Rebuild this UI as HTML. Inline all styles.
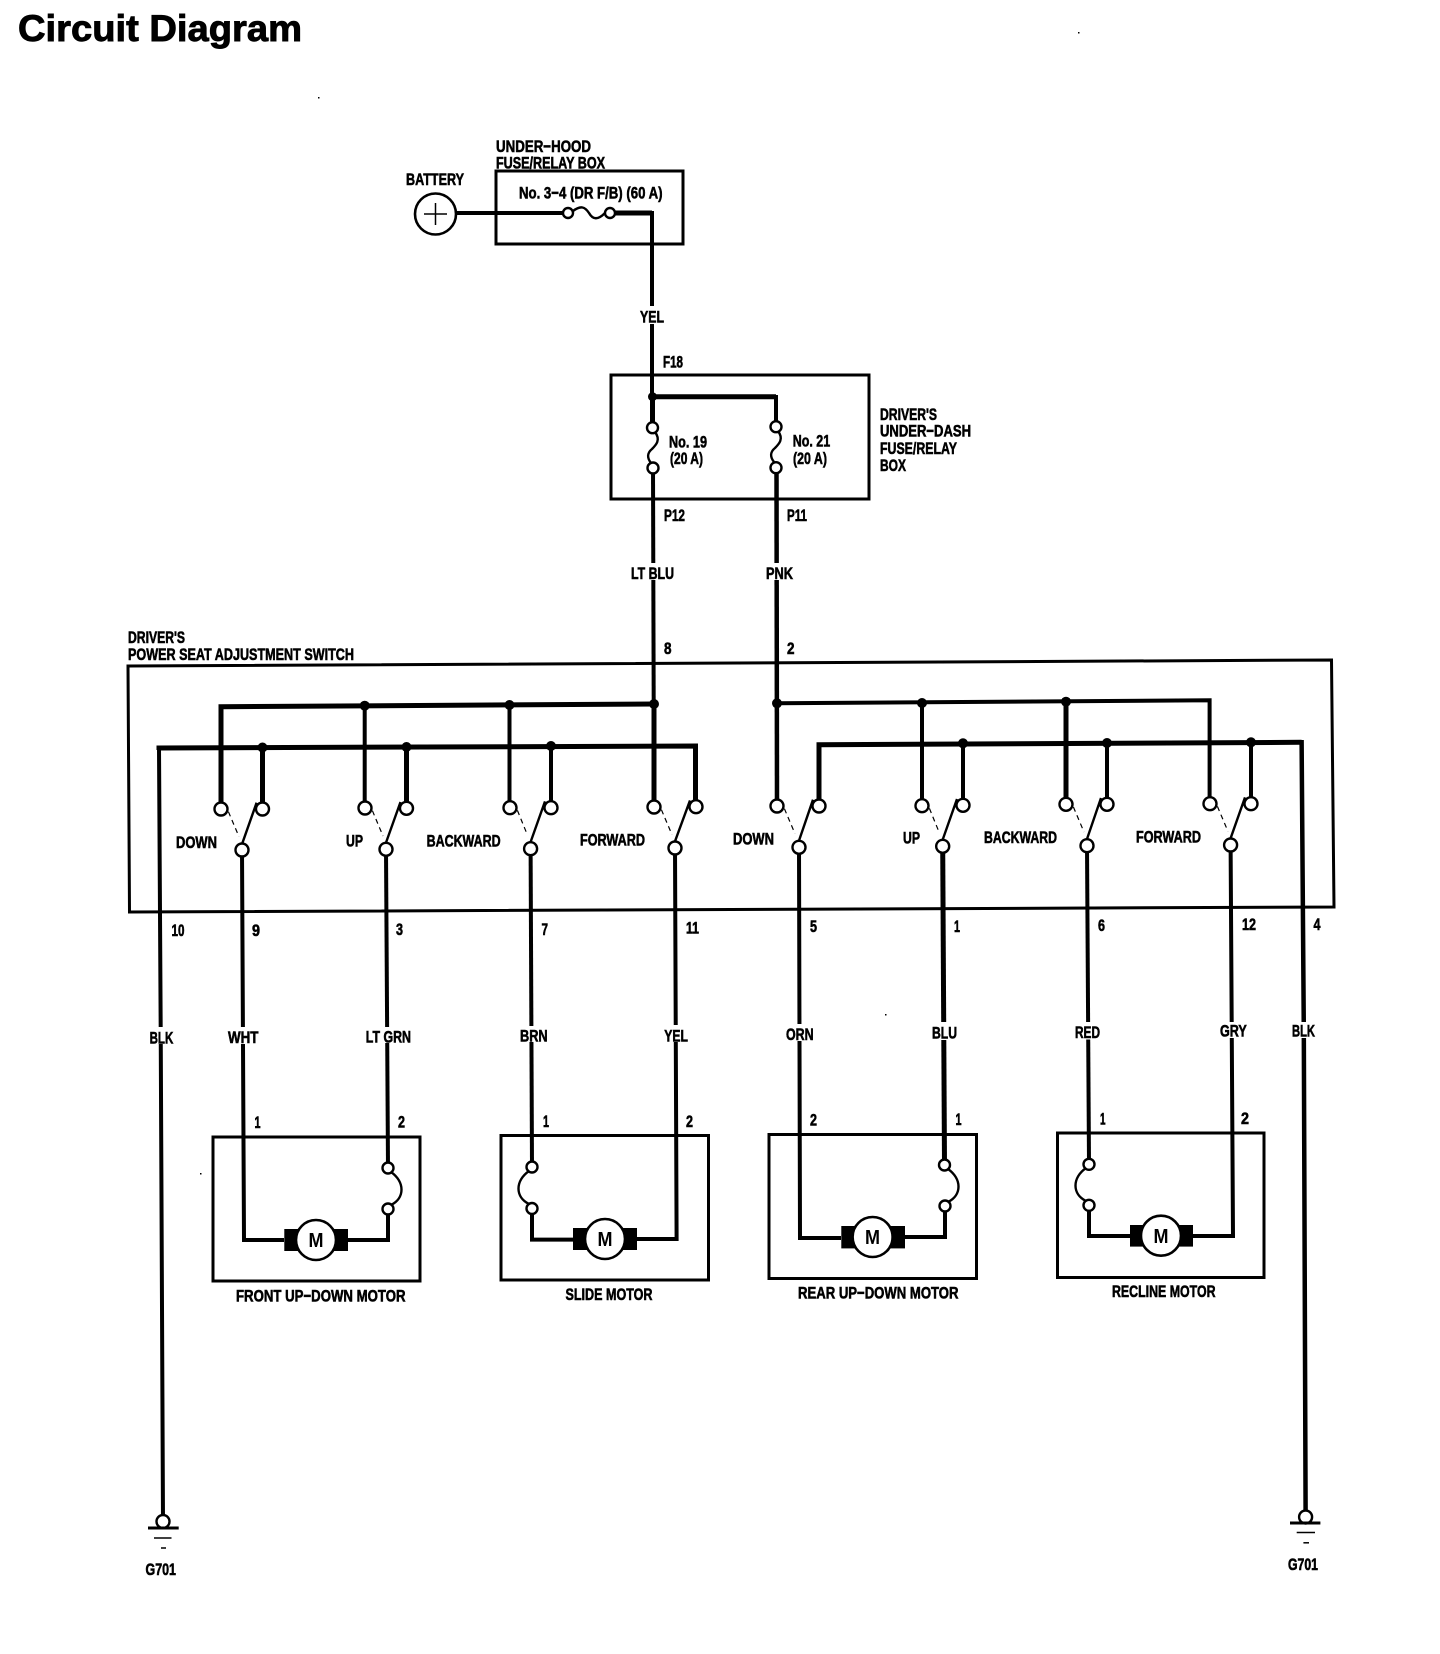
<!DOCTYPE html>
<html lang="en">
<head>
<meta charset="utf-8">
<title>Circuit Diagram</title>
<style>
html,body{margin:0;padding:0;background:#fff;width:1440px;height:1654px;overflow:hidden}
svg{display:block}
text{font-family:"Liberation Sans",sans-serif;font-weight:bold;fill:#000;stroke:#000;stroke-width:.6}
.l{font-size:17px}
.p{font-size:16.5px}
.w3,.w4,.w5{fill:none;stroke:#000;stroke-linejoin:miter;stroke-linecap:butt}
.w3{stroke-width:3}.w4{stroke-width:4}.w5{stroke-width:5}
.b{fill:none;stroke:#000;stroke-width:3}
.o{fill:#fff;stroke:#000;stroke-width:2.4}
.d{fill:#000}
.c{fill:none;stroke:#000;stroke-width:2.4}
.s{stroke:#000;stroke-width:2.4;fill:none}
.ds{stroke:#000;stroke-width:1.2;stroke-dasharray:5 4;fill:none}
.g{fill:#fff}
.m{font-size:20px;stroke-width:0}
</style>
</head>
<body>
<svg width="1440" height="1654" viewBox="0 0 1440 1654" xmlns="http://www.w3.org/2000/svg">
<rect width="1440" height="1654" fill="#fff"/>

<!-- specks -->
<rect x="318" y="97" width="1.5" height="1.5" fill="#000"/>
<rect x="200" y="1173" width="1.5" height="1.5" fill="#000"/>
<rect x="1078" y="32" width="1.5" height="1.5" fill="#000"/>
<rect x="885" y="1014" width="1.5" height="1.5" fill="#000"/>

<!-- boxes -->
<rect class="b" x="496" y="171" width="187" height="73"/>
<rect class="b" x="611" y="375" width="258" height="124"/>
<polygon class="b" points="128,666 1331.5,660 1334,907 129.5,912"/>
<rect class="b" x="213" y="1137" width="207" height="144"/>
<rect class="b" x="501" y="1135.5" width="207.5" height="144.5"/>
<rect class="b" x="769" y="1134.5" width="207.5" height="144"/>
<rect class="b" x="1057.5" y="1133" width="206.5" height="144.5"/>

<!-- supply wires -->
<path class="w4" d="M456 213H568"/>
<path class="w5" d="M610 213H652"/>
<path class="w4" d="M652 211V400"/>
<path class="w5" d="M652.3 396.7H776"/>
<path class="w4" d="M776 395V427"/>
<path class="w5" d="M652.5 397V428"/>
<path class="w4" d="M653 468L654 807"/>
<path class="w4" d="M776.5 468L777 806" style="stroke-width:4.5"/>

<!-- left buses -->
<path class="w5" d="M221 809V706.7L654 704"/>
<path class="w4" d="M364.7 705.7V808"/>
<path class="w4" d="M509.5 705V807.7"/>
<path class="w5" d="M654 704V807"/>
<path class="w5" d="M159 750V748L695.5 746V806.7"/>
<path class="w5" d="M262.5 747.5V809"/>
<path class="w5" d="M406.5 747V808.3"/>
<path class="w4" d="M551 746V807.7"/>
<path class="w4" d="M159 748L160.7 1030L163 1521"/>

<!-- right buses -->
<path class="w4" d="M777 703.3L1209.6 700.3V803.7"/>
<path class="w4" d="M922 703V805.7"/>
<path class="w5" d="M1066 701.7V804.3"/>
<path class="w5" d="M819 806V744.7L1301.6 742.3"/>
<path class="w4" d="M963 743.3V805.3"/>
<path class="w4" d="M1107 743V804.3"/>
<path class="w4" d="M1251 742.3V803.7"/>
<path class="w4" d="M1301.6 740L1303.8 1030L1305.6 1511" style="stroke-width:4.5"/>

<!-- wires from switches to motors -->
<path class="w4" d="M242 850L244 1240H284"/>
<path class="w4" d="M386 850L388 1168"/>
<path class="w4" d="M388 1209V1240H348"/>
<path class="w4" d="M530.6 849L532 1167"/>
<path class="w4" d="M532 1208V1239.6H573"/>
<path class="w4" d="M675 848L676.6 1239H637"/>
<path class="w4" d="M799 847L800 1238H841"/>
<path class="w5" d="M942.7 846L944.5 1165"/>
<path class="w4" d="M945 1206V1237H905"/>
<path class="w4" d="M1087 846L1089 1164"/>
<path class="w4" d="M1089 1205V1236H1130"/>
<path class="w4" d="M1230.6 845L1233 1236H1193"/>

<!-- wire-colour label gaps -->
<rect class="g" x="640" y="306" width="24" height="18"/>
<rect class="g" x="631" y="563" width="43" height="17"/>
<rect class="g" x="766" y="563" width="27" height="17"/>
<rect class="g" x="150" y="1027" width="23" height="17"/>
<rect class="g" x="228" y="1027" width="30" height="17"/>
<rect class="g" x="366" y="1027" width="45" height="16"/>
<rect class="g" x="520" y="1026" width="28" height="16"/>
<rect class="g" x="664" y="1025" width="24" height="17"/>
<rect class="g" x="786" y="1024" width="28" height="17"/>
<rect class="g" x="932" y="1022" width="25" height="18"/>
<rect class="g" x="1075" y="1022" width="25" height="17.5"/>
<rect class="g" x="1220" y="1022" width="27" height="16"/>
<rect class="g" x="1292" y="1022" width="23" height="16"/>

<!-- junction dots -->
<circle class="d" cx="652.5" cy="396.7" r="4.5"/>
<circle class="d" cx="364.7" cy="705.7" r="5"/>
<circle class="d" cx="509.5" cy="705" r="5"/>
<circle class="d" cx="654" cy="704" r="5"/>
<circle class="d" cx="262.5" cy="747.5" r="5"/>
<circle class="d" cx="406.5" cy="747" r="5"/>
<circle class="d" cx="551" cy="746" r="5"/>
<circle class="d" cx="777" cy="703.3" r="5"/>
<circle class="d" cx="922" cy="703" r="5"/>
<circle class="d" cx="1066" cy="701.7" r="5"/>
<circle class="d" cx="963" cy="743.3" r="5"/>
<circle class="d" cx="1107" cy="743" r="5"/>
<circle class="d" cx="1251" cy="742.3" r="5"/>

<!-- battery -->
<circle cx="435.5" cy="214" r="20.5" fill="#fff" stroke="#000" stroke-width="2.6"/>
<path d="M424 214H447M435.5 203V225" stroke="#000" stroke-width="1.5" fill="none"/>

<!-- fuses -->
<path class="c" d="M573 211C581 205 585 207 589 213C593 220 598 220 605 213"/>
<circle class="o" cx="568" cy="213" r="5"/>
<circle class="o" cx="610" cy="213" r="5"/>
<path class="c" d="M655 432C661 440 656 445 652 449C647 453 647 458 651 463"/>
<circle class="o" cx="652.5" cy="427.7" r="5.5"/>
<circle class="o" cx="653" cy="468" r="5.5"/>
<path class="c" d="M778 431C784 439 779 444 775 448C770 452 770 457 774 462"/>
<circle class="o" cx="776" cy="426.7" r="5.5"/>
<circle class="o" cx="776" cy="467.7" r="5.5"/>

<!-- left switches -->
<path class="s" d="M242.3 843.3L256.6 802.7M386 842.6L400.5 802M530.6 842L545 801.4M675 841.3L690 800.4"/>
<path class="ds" d="M228.4 811.7L239 836.7M372.4 810.7L383 836M517.4 810.4L527.6 835.4M661.4 809.7L672 834.7"/>
<circle class="o" cx="221" cy="809" r="6.5"/>
<circle class="o" cx="262.5" cy="809" r="6.5"/>
<circle class="o" cx="242" cy="850" r="6.5"/>
<circle class="o" cx="365" cy="808" r="6.5"/>
<circle class="o" cx="406.5" cy="808.3" r="6.5"/>
<circle class="o" cx="386" cy="849.3" r="6.5"/>
<circle class="o" cx="510" cy="807.7" r="6.5"/>
<circle class="o" cx="551" cy="807.7" r="6.5"/>
<circle class="o" cx="530.6" cy="848.7" r="6.5"/>
<circle class="o" cx="654" cy="807" r="6.5"/>
<circle class="o" cx="696" cy="806.7" r="6.5"/>
<circle class="o" cx="675" cy="848" r="6.5"/>

<!-- right switches -->
<path class="s" d="M799 840.6L813 799.7M942.7 839.6L957 799M1087 839L1101 798M1230.6 838.3L1245 797.4"/>
<path class="ds" d="M784.4 808.7L795 833.7M929.4 808.4L939.6 833.4M1073.4 807L1084 832M1217.4 806.4L1228 831.4"/>
<circle class="o" cx="777" cy="806" r="6.5"/>
<circle class="o" cx="819" cy="806" r="6.5"/>
<circle class="o" cx="799" cy="847.3" r="6.5"/>
<circle class="o" cx="922" cy="805.7" r="6.5"/>
<circle class="o" cx="963" cy="805.3" r="6.5"/>
<circle class="o" cx="942.7" cy="846.3" r="6.5"/>
<circle class="o" cx="1066" cy="804.3" r="6.5"/>
<circle class="o" cx="1107" cy="804.3" r="6.5"/>
<circle class="o" cx="1087" cy="845.7" r="6.5"/>
<circle class="o" cx="1210" cy="803.7" r="6.5"/>
<circle class="o" cx="1251" cy="803.7" r="6.5"/>
<circle class="o" cx="1230.6" cy="845" r="6.5"/>

<!-- motor fuses -->
<path class="c" d="M391 1172C405 1182 405 1198 391 1205"/>
<circle class="o" cx="388" cy="1168" r="5.5"/>
<circle class="o" cx="388" cy="1209" r="5.5"/>
<path class="c" d="M529 1171C515 1181 515 1197 529 1204"/>
<circle class="o" cx="532" cy="1167" r="5.5"/>
<circle class="o" cx="532" cy="1208.5" r="5.5"/>
<path class="c" d="M948 1169C962 1179 962 1195 948 1202"/>
<circle class="o" cx="944.5" cy="1165" r="5.5"/>
<circle class="o" cx="945" cy="1206" r="5.5"/>
<path class="c" d="M1086 1168C1072 1178 1072 1194 1086 1201"/>
<circle class="o" cx="1089" cy="1164.3" r="5.5"/>
<circle class="o" cx="1089" cy="1205.3" r="5.5"/>

<!-- motors -->
<rect x="284.3" y="1229" width="63.7" height="22" fill="#000"/>
<circle cx="316" cy="1240" r="20" fill="#fff" stroke="#000" stroke-width="2.6"/>
<rect x="573" y="1228" width="64" height="22" fill="#000"/>
<circle cx="605" cy="1239" r="20" fill="#fff" stroke="#000" stroke-width="2.6"/>
<rect x="841.3" y="1226" width="63.7" height="22.4" fill="#000"/>
<circle cx="872.6" cy="1237" r="20" fill="#fff" stroke="#000" stroke-width="2.6"/>
<rect x="1130" y="1225" width="63" height="21.6" fill="#000"/>
<circle cx="1161" cy="1235.7" r="20" fill="#fff" stroke="#000" stroke-width="2.6"/>
<text class="m" x="308.5" y="1247" textLength="15" lengthAdjust="spacingAndGlyphs">M</text>
<text class="m" x="597.5" y="1246" textLength="15" lengthAdjust="spacingAndGlyphs">M</text>
<text class="m" x="865" y="1244" textLength="15" lengthAdjust="spacingAndGlyphs">M</text>
<text class="m" x="1153.5" y="1243" textLength="15" lengthAdjust="spacingAndGlyphs">M</text>

<!-- grounds -->
<circle class="o" cx="163" cy="1521.5" r="6.5"/>
<path d="M148 1528H178.7" stroke="#000" stroke-width="3"/>
<path d="M154 1538H171.5" stroke="#000" stroke-width="1.5"/>
<path d="M161 1548H166" stroke="#000" stroke-width="1.5"/>
<circle class="o" cx="1305.6" cy="1517" r="6.5"/>
<path d="M1290 1523H1320.4" stroke="#000" stroke-width="3"/>
<path d="M1296.7 1532.5H1315" stroke="#000" stroke-width="1.5"/>
<path d="M1303.4 1542.8H1309" stroke="#000" stroke-width="1.5"/>

<!-- title -->
<text x="18" y="41" style="font-size:37px;stroke-width:.9" textLength="284" lengthAdjust="spacingAndGlyphs">Circuit Diagram</text>

<!-- component labels -->
<text class="l" x="406" y="185" textLength="58" lengthAdjust="spacingAndGlyphs">BATTERY</text>
<text class="l" x="496" y="152" textLength="95" lengthAdjust="spacingAndGlyphs">UNDER−HOOD</text>
<text class="l" x="496" y="168.5" textLength="109" lengthAdjust="spacingAndGlyphs">FUSE/RELAY BOX</text>
<text class="l" x="519" y="198.5" textLength="143.5" lengthAdjust="spacingAndGlyphs">No. 3−4 (DR F/B) (60 A)</text>
<text class="l" x="640" y="322.7" textLength="24" lengthAdjust="spacingAndGlyphs">YEL</text>
<text class="p" x="663" y="367.5" textLength="20" lengthAdjust="spacingAndGlyphs">F18</text>
<text class="l" x="669" y="447.7" textLength="38" lengthAdjust="spacingAndGlyphs">No. 19</text>
<text class="l" x="670" y="464" textLength="33" lengthAdjust="spacingAndGlyphs">(20 A)</text>
<text class="l" x="792.7" y="446.7" textLength="37.5" lengthAdjust="spacingAndGlyphs">No. 21</text>
<text class="l" x="793" y="464" textLength="34" lengthAdjust="spacingAndGlyphs">(20 A)</text>
<text class="l" x="880" y="420" textLength="57" lengthAdjust="spacingAndGlyphs">DRIVER'S</text>
<text class="l" x="880" y="436.7" textLength="91" lengthAdjust="spacingAndGlyphs">UNDER−DASH</text>
<text class="l" x="880" y="454" textLength="77" lengthAdjust="spacingAndGlyphs">FUSE/RELAY</text>
<text class="l" x="880" y="471" textLength="26" lengthAdjust="spacingAndGlyphs">BOX</text>
<text class="p" x="664" y="521" textLength="21" lengthAdjust="spacingAndGlyphs">P12</text>
<text class="p" x="787" y="521" textLength="20" lengthAdjust="spacingAndGlyphs">P11</text>
<text class="l" x="631" y="579" textLength="43" lengthAdjust="spacingAndGlyphs">LT BLU</text>
<text class="l" x="766" y="579" textLength="27" lengthAdjust="spacingAndGlyphs">PNK</text>
<text class="l" x="128" y="643" textLength="57" lengthAdjust="spacingAndGlyphs">DRIVER'S</text>
<text class="l" x="128" y="660" textLength="226" lengthAdjust="spacingAndGlyphs">POWER SEAT ADJUSTMENT SWITCH</text>

<!-- switch labels -->
<text class="l" x="176" y="848" textLength="41" lengthAdjust="spacingAndGlyphs">DOWN</text>
<text class="l" x="346" y="846.7" textLength="17" lengthAdjust="spacingAndGlyphs">UP</text>
<text class="l" x="426.6" y="846.7" textLength="74" lengthAdjust="spacingAndGlyphs">BACKWARD</text>
<text class="l" x="580" y="845.7" textLength="65" lengthAdjust="spacingAndGlyphs">FORWARD</text>
<text class="l" x="733" y="844.5" textLength="41" lengthAdjust="spacingAndGlyphs">DOWN</text>
<text class="l" x="903" y="843.3" textLength="17" lengthAdjust="spacingAndGlyphs">UP</text>
<text class="l" x="984" y="843" textLength="73" lengthAdjust="spacingAndGlyphs">BACKWARD</text>
<text class="l" x="1136" y="842.3" textLength="65" lengthAdjust="spacingAndGlyphs">FORWARD</text>

<!-- pin numbers -->
<text class="p" x="664" y="654" textLength="7.5" lengthAdjust="spacingAndGlyphs">8</text>
<text class="p" x="787" y="654" textLength="7.5" lengthAdjust="spacingAndGlyphs">2</text>
<text class="p" x="171.5" y="936" textLength="13" lengthAdjust="spacingAndGlyphs">10</text>
<text class="p" x="252" y="936" textLength="8" lengthAdjust="spacingAndGlyphs">9</text>
<text class="p" x="396" y="935" textLength="7" lengthAdjust="spacingAndGlyphs">3</text>
<text class="p" x="541.5" y="935" textLength="6.5" lengthAdjust="spacingAndGlyphs">7</text>
<text class="p" x="686" y="933.5" textLength="13" lengthAdjust="spacingAndGlyphs">11</text>
<text class="p" x="810" y="932" textLength="7" lengthAdjust="spacingAndGlyphs">5</text>
<text class="p" x="954" y="932" textLength="6" lengthAdjust="spacingAndGlyphs">1</text>
<text class="p" x="1098" y="931" textLength="7" lengthAdjust="spacingAndGlyphs">6</text>
<text class="p" x="1242" y="930" textLength="14" lengthAdjust="spacingAndGlyphs">12</text>
<text class="p" x="1313.5" y="930" textLength="7" lengthAdjust="spacingAndGlyphs">4</text>

<!-- wire colours -->
<text class="l" x="149.6" y="1043.3" textLength="23.7" lengthAdjust="spacingAndGlyphs">BLK</text>
<text class="l" x="228" y="1043" textLength="30.5" lengthAdjust="spacingAndGlyphs">WHT</text>
<text class="l" x="365.8" y="1042.3" textLength="45.2" lengthAdjust="spacingAndGlyphs">LT GRN</text>
<text class="l" x="520" y="1041.7" textLength="27.6" lengthAdjust="spacingAndGlyphs">BRN</text>
<text class="l" x="664.3" y="1041.7" textLength="23.7" lengthAdjust="spacingAndGlyphs">YEL</text>
<text class="l" x="786" y="1040" textLength="27.6" lengthAdjust="spacingAndGlyphs">ORN</text>
<text class="l" x="932" y="1038.3" textLength="25" lengthAdjust="spacingAndGlyphs">BLU</text>
<text class="l" x="1075" y="1038" textLength="25" lengthAdjust="spacingAndGlyphs">RED</text>
<text class="l" x="1220" y="1036.7" textLength="26.8" lengthAdjust="spacingAndGlyphs">GRY</text>
<text class="l" x="1292" y="1036.7" textLength="23" lengthAdjust="spacingAndGlyphs">BLK</text>

<!-- motor pin numbers -->
<text class="p" x="254.5" y="1128" textLength="6" lengthAdjust="spacingAndGlyphs">1</text>
<text class="p" x="398" y="1127.5" textLength="7" lengthAdjust="spacingAndGlyphs">2</text>
<text class="p" x="543" y="1127" textLength="6" lengthAdjust="spacingAndGlyphs">1</text>
<text class="p" x="686" y="1127" textLength="7" lengthAdjust="spacingAndGlyphs">2</text>
<text class="p" x="810" y="1125.4" textLength="7" lengthAdjust="spacingAndGlyphs">2</text>
<text class="p" x="955.5" y="1125" textLength="6" lengthAdjust="spacingAndGlyphs">1</text>
<text class="p" x="1100" y="1124.7" textLength="5.5" lengthAdjust="spacingAndGlyphs">1</text>
<text class="p" x="1241" y="1124" textLength="8" lengthAdjust="spacingAndGlyphs">2</text>

<!-- motor names -->
<text class="l" x="236" y="1301.5" textLength="169.5" lengthAdjust="spacingAndGlyphs">FRONT UP−DOWN MOTOR</text>
<text class="l" x="565.5" y="1300" textLength="87" lengthAdjust="spacingAndGlyphs">SLIDE MOTOR</text>
<text class="l" x="798" y="1298.5" textLength="160.5" lengthAdjust="spacingAndGlyphs">REAR UP−DOWN MOTOR</text>
<text class="l" x="1112" y="1297" textLength="103.5" lengthAdjust="spacingAndGlyphs">RECLINE MOTOR</text>

<!-- ground labels -->
<text class="l" x="145.5" y="1575" textLength="30.5" lengthAdjust="spacingAndGlyphs">G701</text>
<text class="l" x="1288" y="1570" textLength="30" lengthAdjust="spacingAndGlyphs">G701</text>
</svg>
</body>
</html>
